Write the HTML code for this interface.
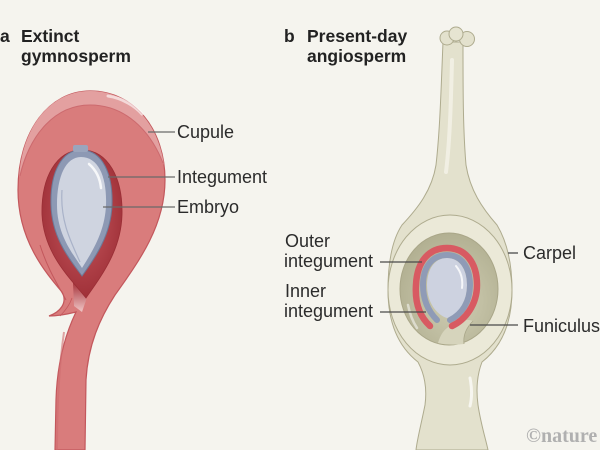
<!DOCTYPE html>
<html><head><meta charset="utf-8"><style>
html,body{margin:0;padding:0;background:#f5f4ee;}
svg{display:block;}
.t{font-family:"Liberation Sans",sans-serif;font-size:18px;fill:#2b2b2b;}
.h{font-family:"Liberation Sans",sans-serif;font-size:17.5px;font-weight:bold;fill:#222;}
</style></head><body>
<svg width="600" height="450" viewBox="0 0 600 450" xmlns="http://www.w3.org/2000/svg">
<defs>
<radialGradient id="cavA" cx="50%" cy="45%" r="60%">
<stop offset="0" stop-color="#c85a60"/><stop offset="1" stop-color="#9c2d35"/>
</radialGradient>
<linearGradient id="fade" x1="0" y1="0" x2="0" y2="1">
<stop offset="0" stop-color="#a8363d"/><stop offset="1" stop-color="#f0c6c6"/>
</linearGradient>
<radialGradient id="cavB" cx="55%" cy="60%" r="60%">
<stop offset="0" stop-color="#d0ceb4"/><stop offset="1" stop-color="#b2b092"/>
</radialGradient>
</defs>
<rect width="600" height="450" fill="#f5f4ee"/>

<!-- Panel a titles -->
<text class="h" x="0" y="42">a</text>
<text class="h" x="21" y="42">Extinct</text>
<text class="h" x="21" y="62">gymnosperm</text>

<!-- Cupule -->
<path d="M 90 91 C 135 91 165 130 165 180 C 165 225 140 260 115 295 C 100 318 88 345 86 380 L 85 450 L 55 450 L 56 400 C 57 365 65 335 76 312 C 68 314 58 316 49 316 C 60 312 68 303 62 292 C 45 272 18 240 18 190 C 18 130 50 91 90 91 Z" fill="#d97c7c" stroke="#c3575c" stroke-width="1.2"/>
<path d="M 19 178 C 22 125 52 91 90 91 C 130 91 158 122 164 165 C 150 130 125 105 90 105 C 55 105 28 135 19 178 Z" fill="#e3a0a0"/>
<path d="M 20 176 C 30 133 56 105 90 105 C 125 105 150 130 163 163" fill="none" stroke="#cc6a6e" stroke-width="1"/>
<path d="M 108 96 C 122 98 135 106 142 114" fill="none" stroke="#fff" stroke-opacity="0.6" stroke-width="3" stroke-linecap="round"/>
<path d="M 40 245 C 48 270 58 285 66 300" fill="none" stroke="#c3575c" stroke-width="1"/>
<path d="M 60 316 C 66 310 70 304 72 298" fill="none" stroke="#c3575c" stroke-width="0.8"/>
<path d="M 64 332 C 60 360 57 395 57 450" fill="none" stroke="#cf6c70" stroke-width="2" stroke-opacity="0.6"/>

<!-- cavity -->
<path d="M 73 283 L 92 283 L 82 312 L 74 306 Z" fill="url(#fade)"/>
<path d="M 82 150 C 108 150 123 178 122 215 C 121 250 102 275 86 298 C 72 280 44 255 42 215 C 41 178 56 150 82 150 Z" fill="url(#cavA)" stroke="#9a2e35" stroke-width="0.8"/>

<!-- integument -->
<path d="M 81 150 C 103 150 113 175 112 205 C 111 235 95 258 82 276 C 72 262 52 240 51 205 C 50 172 62 150 81 150 Z" fill="#8d99b4" stroke="#6d7a98" stroke-width="1"/>
<rect x="73" y="145" width="15" height="7" rx="2" fill="#9aa5bd"/>
<path d="M 81 157 C 99 157 107 178 106 205 C 105 232 92 252 82 268 C 74 255 57 236 57 205 C 57 176 66 157 81 157 Z" fill="#cfd4e0"/>
<path d="M 62 190 C 60 220 70 240 80 262" fill="none" stroke="#a9b2c8" stroke-width="1.2"/>
<path d="M 89 164 C 96 170 100 178 101 188" fill="none" stroke="#fff" stroke-opacity="0.8" stroke-width="2.5" stroke-linecap="round"/>

<!-- Panel a labels -->
<g stroke="#6a6a6a" stroke-width="1.3">
<line x1="148" y1="132" x2="175" y2="132"/>
<line x1="108" y1="177" x2="175" y2="177"/>
<line x1="103" y1="207" x2="175" y2="207"/>
</g>
<text class="t" x="177" y="138">Cupule</text>
<text class="t" x="177" y="183">Integument</text>
<text class="t" x="177" y="213">Embryo</text>

<!-- Panel b titles -->
<text class="h" x="284" y="42">b</text>
<text class="h" x="307" y="42">Present-day</text>
<text class="h" x="307" y="62">angiosperm</text>

<!-- Carpel silhouette -->
<path d="M 443 42 C 441 90 440 130 436 165 C 432 190 418 208 402 225 C 392 240 388 262 388 290 C 388 325 400 348 418 362 C 425 375 427 390 425 405 C 421 425 417 440 416 450 L 488 450 C 486 440 481 425 478 405 C 476 390 477 375 482 362 C 500 348 512 325 512 290 C 512 262 506 240 497 225 C 482 208 470 190 466 165 C 463 130 463 90 463 42 Z" fill="#e3e1cd" stroke="#aeab8e" stroke-width="1"/>
<path d="M 452 60 C 451 100 450 140 446 172" fill="none" stroke="#f4f3e8" stroke-opacity="0.8" stroke-width="4" stroke-linecap="round"/>
<path d="M 470 378 C 472 388 472 398 470 406" fill="none" stroke="#fff" stroke-opacity="0.7" stroke-width="3" stroke-linecap="round"/>
<circle cx="447" cy="38" r="7" fill="#e3e1cd" stroke="#aeab8e"/>
<circle cx="467" cy="39" r="7.5" fill="#e3e1cd" stroke="#aeab8e"/>
<circle cx="456" cy="34" r="7" fill="#e6e4d1" stroke="#aeab8e"/>

<!-- ovary ring and cavity -->
<ellipse cx="450" cy="290" rx="62" ry="75" fill="#ebe9d8" stroke="#aeab8e" stroke-width="1"/>
<ellipse cx="449" cy="289" rx="49" ry="56" fill="url(#cavB)" stroke="#a9a688" stroke-width="1"/>
<path d="M 408 305 C 410 315 413 322 417 328" fill="none" stroke="#fff" stroke-opacity="0.5" stroke-width="2.5" stroke-linecap="round"/>
<!-- funiculus -->
<path d="M 447 328 C 455 321 465 318 473 321 C 466 328 463 336 464 344 C 455 345 446 345 438 343 C 440 336 443 331 447 328 Z" fill="#d6d4bc"/>
<path d="M 473 321 C 466 328 463 336 464 344" fill="none" stroke="#a9a688" stroke-width="0.8"/>

<!-- ovule -->
<path d="M 447 258 C 460 258 467 270 467 285 C 467 303 457 315 447 318 C 437 315 427 303 427 285 C 427 270 434 258 447 258 Z" fill="#cdd2e0"/>
<path d="M 456 266 C 461 272 463 280 462 288" fill="none" stroke="#fff" stroke-opacity="0.8" stroke-width="2" stroke-linecap="round"/>
<path d="M 437 320 C 427 310 423 298 423 285 C 423 266 433 255 447 255 C 462 255 470 268 470 285 C 470 302 462 314 450 320" fill="none" stroke="#8f9bb6" stroke-width="6" stroke-linecap="round"/>
<path d="M 430 326 C 418 315 415 300 416 285 C 417 260 430 248 447 248 C 465 248 477 262 477 285 C 477 305 465 320 452 326" fill="none" stroke="#d85a62" stroke-width="6.5" stroke-linecap="round"/>

<!-- Panel b labels -->
<g stroke="#4a4a4a" stroke-width="1.3">
<line x1="380" y1="262" x2="422" y2="262"/>
<line x1="380" y1="312" x2="426" y2="312"/>
<line x1="508" y1="253" x2="518" y2="253"/>
<line x1="470" y1="325" x2="518" y2="325"/>
</g>
<text class="t" x="285" y="247">Outer</text>
<text class="t" x="284" y="267">integument</text>
<text class="t" x="285" y="297">Inner</text>
<text class="t" x="284" y="317">integument</text>
<text class="t" x="523" y="259">Carpel</text>
<text class="t" x="523" y="332">Funiculus</text>

<text x="526" y="442" font-family="'Liberation Serif',serif" font-weight="bold" font-size="20" fill="#b0b0b0">©nature</text>
</svg>
</body></html>
